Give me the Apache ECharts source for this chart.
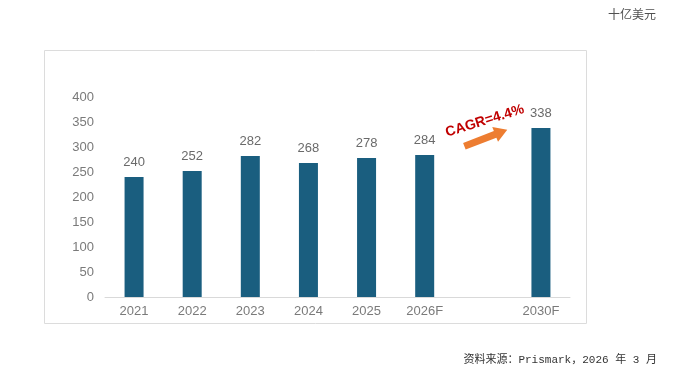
<!DOCTYPE html>
<html>
<head>
<meta charset="utf-8">
<script src="https://cdn.jsdelivr.net/npm/echarts@6/dist/echarts.min.js"></script>
<style>
  html, body { margin: 0; padding: 0; background: #fff; }
  #main { width: 692px; height: 376px; }
</style>
</head>
<body>
<div id="main"></div>
<script>
// categories (blank slot between 2026F and 2030F)
const years = ["2021", "2022", "2023", "2024", "2025", "2026F", "", "2030F"];
const revenue = [240, 252, 282, 268, 278, 284, null, 338];
const yTicks = [0, 50, 100, 150, 200, 250, 300, 350, 400];
const unitText = "十亿美元";
const sourceText = "资料来源：Prismark，2026 年 3 月";
const cagrText = "CAGR=4.4%";

var chartDom = document.getElementById("main");
var myChart = echarts.init(chartDom);
var option;

option = {
  animation: false,
  backgroundColor: "#fff",
  grid: {
    left: 105,
    right: 122,
    top: 97,
    bottom: 79
  },
  xAxis: {
    type: "category",
    data: years,
    axisLine: { lineStyle: { color: "#d9d9d9", width: 1 } },
    axisTick: { show: false },
    axisLabel: {
      color: "#7a7a7a",
      fontSize: 13,
      fontFamily: "Liberation Sans",
      margin: 8
    }
  },
  yAxis: {
    type: "value",
    min: yTicks[0],
    max: yTicks[yTicks.length - 1],
    interval: 50,
    splitLine: { show: false },
    axisLine: { show: false },
    axisTick: { show: false },
    axisLabel: {
      color: "#7a7a7a",
      fontSize: 13,
      fontFamily: "Liberation Sans",
      margin: 11
    }
  },
  series: [
    {
      type: "bar",
      data: revenue,
      barWidth: 19,
      itemStyle: { color: "#1a5e7f" },
      label: {
        show: true,
        position: "top",
        distance: 8,
        color: "#6a6a6a",
        fontSize: 13,
        fontFamily: "Liberation Sans"
      }
    }
  ],
  graphic: [
    {
      id: "frame",
      type: "rect",
      shape: { x: 44.5, y: 50.5, width: 542, height: 273 },
      style: { fill: "none", stroke: "#dcdcdc", lineWidth: 1 },
      z: 0
    },
    {
      id: "unit",
      type: "text",
      right: 36,
      top: 8,
      style: {
        text: unitText,
        fill: "#505050",
        fontSize: 12,
        fontFamily: "Noto Sans CJK SC"
      }
    },
    {
      id: "source",
      type: "text",
      right: 35,
      top: 355,
      style: {
        text: sourceText,
        fill: "#333",
        fontSize: 11,
        fontFamily: "Liberation Mono, Noto Sans CJK SC"
      }
    }
  ]
};
option && myChart.setOption(option);

// CAGR arrow anchored on the blank category slot
const arrowPos = myChart.convertToPixel({ seriesIndex: 0 }, [6, 320]);
const textPos = myChart.convertToPixel({ seriesIndex: 0 }, [6, 352]);
myChart.setOption({
  graphic: [
    {
      id: "arrow",
      type: "polygon",
      x: arrowPos[0] + 3,
      y: arrowPos[1] + 1,
      rotation: 0.37,
      shape: {
        points: [[-23, -3.5], [10, -3.5], [10, -8], [23, 0], [10, 8], [10, 3.5], [-23, 3.5]]
      },
      style: { fill: "#ed7d31" },
      z: 10
    },
    {
      id: "cagr",
      type: "text",
      x: textPos[0] + 2,
      y: textPos[1],
      rotation: 0.3,
      style: {
        text: cagrText,
        fill: "#c00000",
        fontSize: 14,
        fontWeight: "bold",
        fontFamily: "Liberation Sans",
        align: "center",
        verticalAlign: "middle"
      },
      z: 10
    }
  ]
});
</script>
</body>
</html>
